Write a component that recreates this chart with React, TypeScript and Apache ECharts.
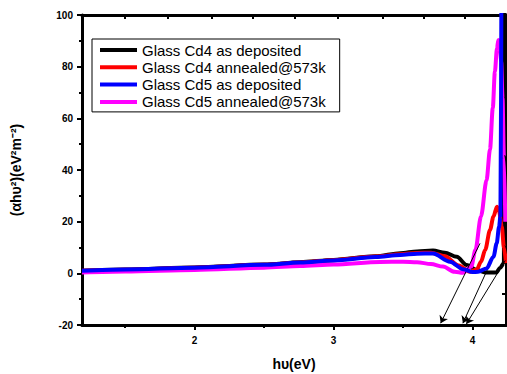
import { useEffect, useRef } from "react";
import * as echarts from "echarts";

const seriesNames = [
  "Glass Cd4 as deposited",
  "Glass Cd4 annealed@573k",
  "Glass Cd5 as deposited",
  "Glass Cd5 annealed@573k",
];
const seriesColors = ["#000000", "#ff0000", "#0000ff", "#ff00ff"];

const cd4DepX = [1.19, 1.5, 2.0, 2.5, 2.76, 3.0, 3.3, 3.48, 3.6, 3.715, 3.8, 3.886, 3.958, 4.03, 4.09, 4.17, 4.197, 4.225, 4.228];
const cd4DepY = [1.0, 1.5, 2.3, 3.4, 4.3, 5.2, 6.6, 7.8, 8.5, 8.8, 8.0, 6.4, 3.2, 1.3, 0.3, 0.3, 2.1, 4.0, 110];

const cd4AnnX = [1.19, 1.5, 2.0, 2.5, 2.76, 3.0, 3.3, 3.48, 3.6, 3.7, 3.8, 3.9, 3.98, 4.03, 4.06, 4.09, 4.125, 4.15, 4.175, 4.19, 4.21, 4.225, 4.24];
const cd4AnnY = [1.0, 1.4, 2.2, 3.3, 4.2, 5.1, 6.5, 7.4, 7.9, 8.0, 6.6, 3.0, 0.6, 1.5, 4.5, 9.0, 16.8, 22, 25.8, 24, 18, 10, 4];

const cd5DepX = [1.19, 1.5, 2.0, 2.5, 2.76, 3.0, 3.3, 3.48, 3.6, 3.715, 3.837, 3.933, 4.0, 4.04, 4.1, 4.15, 4.173, 4.19, 4.2, 4.207];
const cd5DepY = [1.0, 1.5, 2.2, 3.3, 4.2, 5.0, 6.3, 7.1, 7.6, 7.7, 4.5, 1.55, 0.5, 0.6, 1.9, 6.4, 11.6, 18, 22, 110];

const cd5AnnX = [1.19, 1.5, 2.0, 2.5, 2.76, 3.0, 3.334, 3.5, 3.6, 3.7, 3.787, 3.87, 3.93, 3.99, 4.02, 4.06, 4.1, 4.125, 4.145, 4.16, 4.175, 4.185, 4.195, 4.205, 4.215, 4.225, 4.235];
const cd5AnnY = [0.3, 0.7, 1.3, 2.2, 2.8, 3.4, 4.4, 4.5, 4.3, 3.6, 2.6, 0.6, 0.2, 2.6, 9, 22, 36, 48, 64, 78, 87, 90.3, 89, 82, 68, 45, 20];

const arrowStarts = [
  [4.053, 11.6],
  [4.105, 12.5],
  [4.17, 9.0],
  [4.235, 5.0],
];
const arrowEnds = [
  [3.77, -19.3],
  [3.83, -20.8],
  [3.93, -19.3],
  [3.955, -19.6],
];

const X_MIN = 1.19;
const X_MAX = 4.24;
const Y_MIN = -20;
const Y_MAX = 100;
const Y_STEP = 20;
const xMajorTicks = [2, 3, 4];
const xMinorTicks = [1.5, 2.5, 3.5];
const topTicks = [1.5, 1.81, 2.125, 2.42, 2.72, 3.03, 3.35, 3.645, 3.945];
const rightTicks = [88, 76, 64, 52, 40, 28, 16, 4, -8];

const FONT = "'Liberation Sans', Arial, sans-serif";

export default function App() {
  const ref = useRef<HTMLDivElement>(null);
  useEffect(() => {
    document.body.style.margin = "0";
    if (!ref.current) return;
    const chart = echarts.init(ref.current, undefined, { renderer: "svg" });
    const xsList = [cd4DepX, cd4AnnX, cd5AnnX, cd5DepX];
    const ysList = [cd4DepY, cd4AnnY, cd5AnnY, cd5DepY];
    const nameIdx = [0, 1, 3, 2];
    const series: any[] = xsList.map((xs, k) => {
      const idx = nameIdx[k];
      const s: any = {
        name: seriesNames[idx],
        type: "line",
        xAxisIndex: 0,
        yAxisIndex: 0,
        data: xs.map((x, i) => [x, ysList[k][i]]),
        symbol: "none",
        smooth: 0.3,
        smoothMonotone: "x",
        clip: true,
        lineStyle: { color: seriesColors[idx], width: 4 },
        itemStyle: { color: seriesColors[idx] },
        z: 2 + k,
      };
      if (idx === 0) {
        s.markLine = {
          silent: true,
          symbol: ["none", "arrow"],
          symbolSize: 7,
          label: { show: false },
          lineStyle: { color: "#000", width: 1, type: "solid" },
          data: arrowStarts.map((st, i) => [{ coord: st }, { coord: arrowEnds[i] }]),
        };
      }
      return s;
    });

    const axisLineStyle = { color: "#000", width: 3 };
    const tickStyle = { color: "#000", width: 2 };
    const labelStyle = { color: "#000", fontWeight: "bold", fontSize: 10, fontFamily: FONT };

    const option: any = {
      animation: false,
      backgroundColor: "#ffffff",
      textStyle: { fontFamily: FONT },
      grid: { left: 82, top: 15, width: 424, height: 310, outerBoundsMode: "none" },
      legend: {
        data: seriesNames,
        orient: "vertical",
        left: 92,
        top: 39,
        icon: "rect",
        itemWidth: 37,
        itemHeight: 4,
        itemGap: 2.3,
        padding: [3.5, 14, 2.5, 8],
        borderColor: "#000",
        borderWidth: 1,
        selectedMode: false,
        textStyle: { fontSize: 15, lineHeight: 15, color: "#000", fontFamily: FONT },
      },
      xAxis: [
        {
          type: "value",
          min: X_MIN,
          max: X_MAX,
          position: "bottom",
          axisLine: { show: true, onZero: false, lineStyle: axisLineStyle },
          axisTick: { show: true, customValues: xMajorTicks, length: 5, lineStyle: tickStyle },
          axisLabel: { show: true, customValues: xMajorTicks, margin: 10, ...labelStyle },
          splitLine: { show: false },
          name: "hυ(eV)",
          nameLocation: "middle",
          nameGap: 32,
          nameTextStyle: { color: "#000", fontWeight: "bold", fontSize: 14, fontFamily: FONT },
        },
        {
          type: "value",
          min: X_MIN,
          max: X_MAX,
          position: "bottom",
          axisLine: { show: false, onZero: false },
          axisTick: { show: true, customValues: xMinorTicks, length: 3, lineStyle: tickStyle },
          axisLabel: { show: false },
          splitLine: { show: false },
        },
        {
          type: "value",
          min: X_MIN,
          max: X_MAX,
          position: "top",
          axisLine: { show: true, onZero: false, lineStyle: axisLineStyle },
          axisTick: { show: true, inside: true, customValues: topTicks, length: 4, lineStyle: tickStyle },
          axisLabel: { show: false },
          splitLine: { show: false },
        },
      ],
      yAxis: [
        {
          type: "value",
          min: Y_MIN,
          max: Y_MAX,
          interval: Y_STEP,
          position: "left",
          axisLine: { show: true, onZero: false, lineStyle: axisLineStyle },
          axisTick: { show: true, length: 5, lineStyle: tickStyle },
          minorTick: { show: true, splitNumber: 2, length: 3, lineStyle: tickStyle },
          axisLabel: { show: true, margin: 9, ...labelStyle },
          splitLine: { show: false },
          name: "(αhυ²)(eV²m⁻²)",
          nameLocation: "middle",
          nameRotate: 90,
          nameGap: 59,
          nameTextStyle: { color: "#000", fontWeight: "bold", fontSize: 14, fontFamily: FONT },
        },
        {
          type: "value",
          min: Y_MIN,
          max: Y_MAX,
          position: "right",
          axisLine: { show: true, onZero: false, lineStyle: axisLineStyle },
          axisTick: { show: true, inside: true, customValues: rightTicks, length: 4, lineStyle: tickStyle },
          axisLabel: { show: false },
          splitLine: { show: false },
        },
      ],
      series,
    };
    chart.setOption(option);
    return () => chart.dispose();
  }, []);
  return <div ref={ref} style={{ width: 507, height: 374 }} />;
}
